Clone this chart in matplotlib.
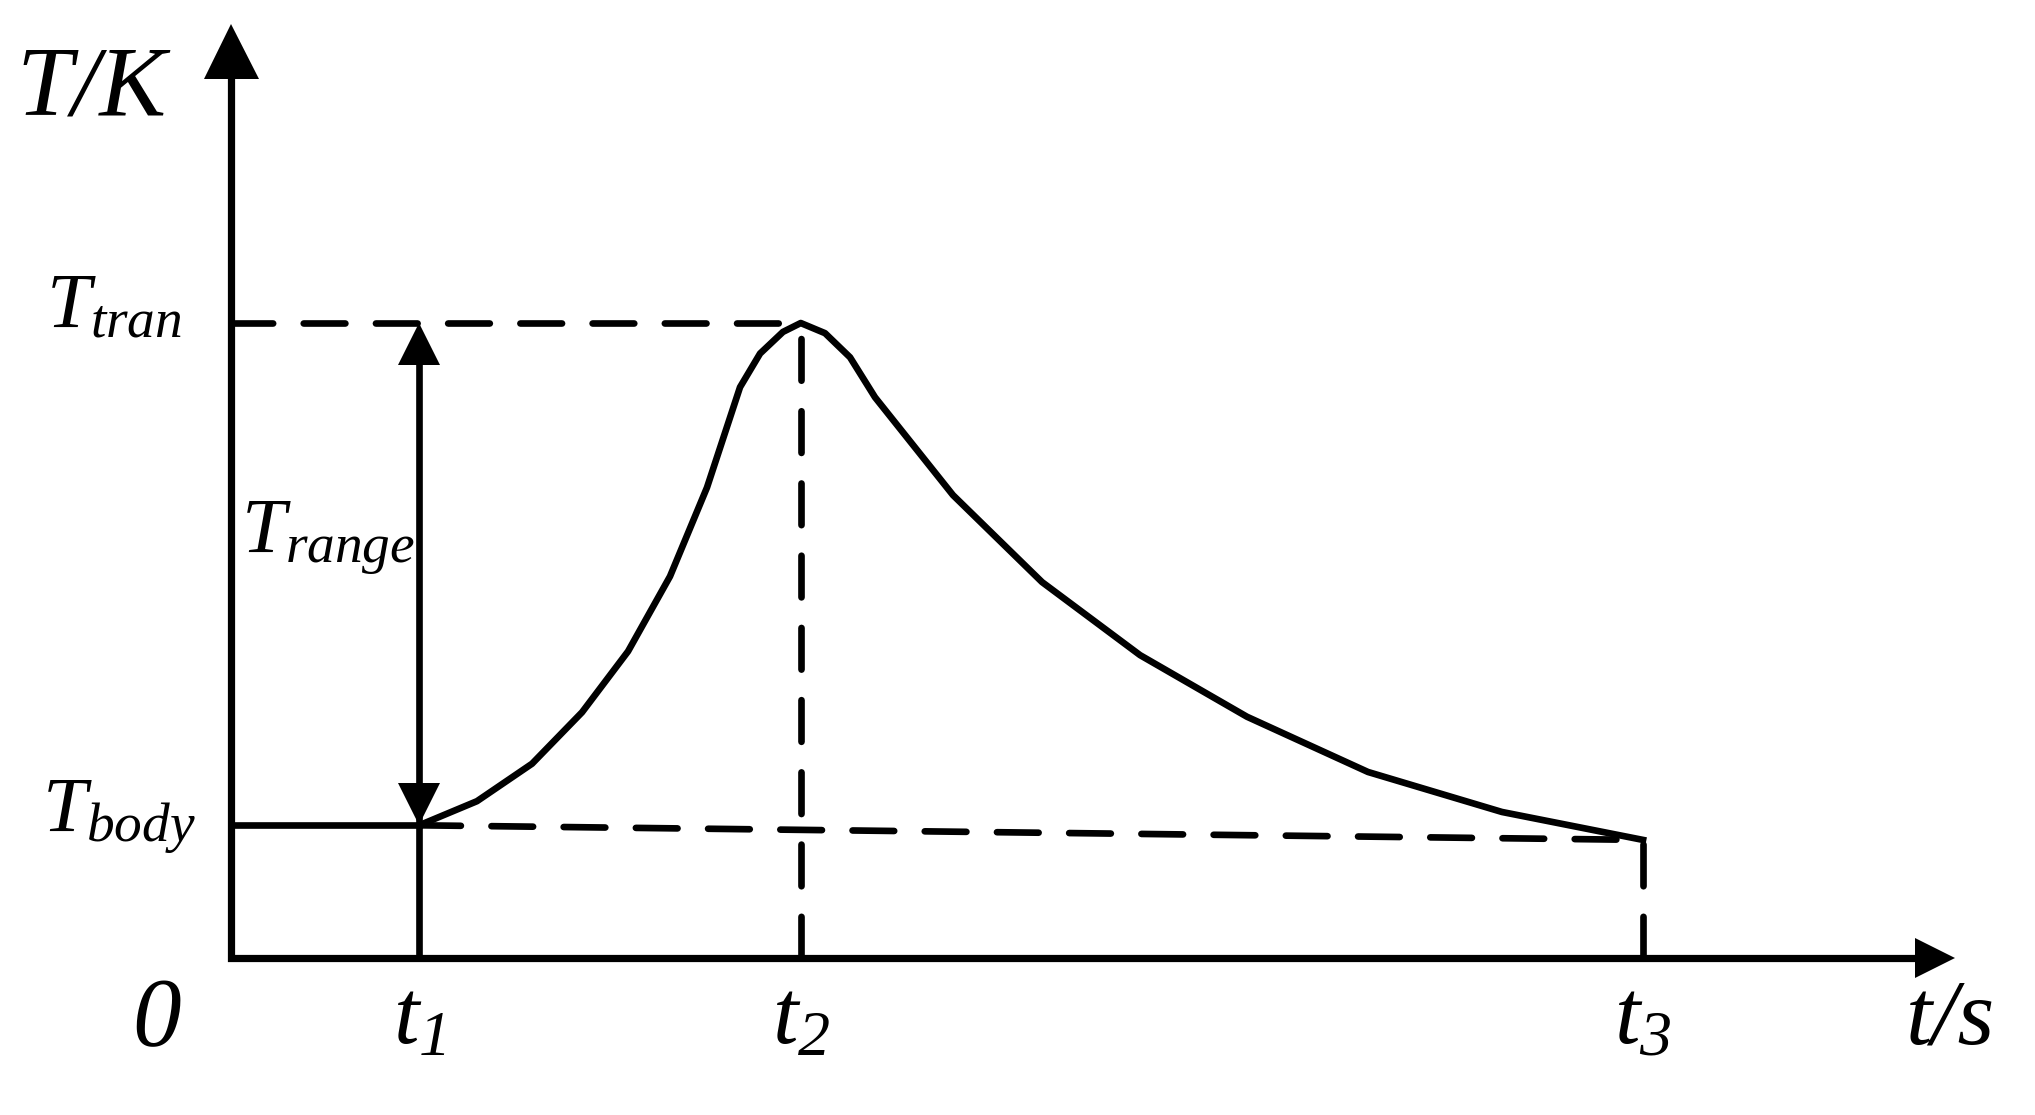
import matplotlib
matplotlib.use('Agg')
import matplotlib.pyplot as plt

plt.rcParams['font.family'] = 'Liberation Serif'
plt.rcParams['mathtext.fontset'] = 'custom'
plt.rcParams['mathtext.it'] = 'Liberation Serif:italic'
plt.rcParams['mathtext.rm'] = 'Liberation Serif:italic'
plt.rcParams['lines.scale_dashes'] = False

# key instants and temperature levels (arbitrary units)
t_marks = [1.333, 4.035, 10.0]
t_labels = [r'$t_1$', r'$t_2$', r'$t_3$']
T_body = 2.09
T_tran = 10.0
T_end = 1.86

# temperature curve
curve_t = [1.333, 1.742, 2.132, 2.486, 2.812, 3.109, 3.371, 3.605, 3.747, 3.909, 4.035,
           4.207, 4.384, 4.561, 5.113, 5.744, 6.438, 7.195, 8.052, 9.001, 10.0]
curve_T = [2.09, 2.47, 3.06, 3.87, 4.83, 6.01, 7.41, 8.99, 9.52, 9.86, 10.0,
           9.84, 9.46, 8.83, 7.29, 5.92, 4.77, 3.80, 2.93, 2.30, 1.86]

x_tip = 12.21
y_tip = 14.72

fig = plt.figure(figsize=(20.35, 11.15), dpi=100)
ax = fig.add_axes([0, 0, 1, 1])
ax.set_xlim(-1.636, 12.776)
ax.set_ylim(-2.472, 15.087)
ax.axis('off')

k = 'black'
dash = (0, (30, 22))
lw = 4.8

# axes: one polyline plus triangle heads
ax.plot([0, 0, x_tip - 0.2], [y_tip - 0.6, 0, 0], color=k, lw=5.2, solid_joinstyle='miter')
ax.plot([0], [y_tip - 0.433], marker='^', ms=39.6, color=k, mew=0)
ax.plot([x_tip - 0.142], [0], marker='>', ms=28.8, color=k, mew=0)

# curve
ax.plot(curve_t, curve_T, color=k, lw=lw, solid_joinstyle='round')

# solid guide lines
ax.plot([0, t_marks[0]], [T_body, T_body], color=k, lw=lw)
ax.plot([t_marks[0], t_marks[0]], [0, T_tran - 0.4], color=k, lw=lw)

# dashed guide lines
ax.plot([0, t_marks[1]], [T_tran, T_tran], color=k, lw=lw, ls=dash, dash_capstyle='round')
ax.plot([t_marks[1], t_marks[1]], [0, T_tran], color=k, lw=lw, ls=dash, dash_capstyle='round')
ax.plot([t_marks[0], t_marks[2]], [T_body, T_end], color=k, lw=lw, ls=dash, dash_capstyle='round')
ax.plot([t_marks[2], t_marks[2]], [0, T_end], color=k, lw=lw, ls=dash, dash_capstyle='round')

# T_range double arrow heads
ax.plot([t_marks[0]], [T_tran - 0.33], marker='^', ms=30, color=k, mew=0)
ax.plot([t_marks[0]], [T_body + 0.33], marker='v', ms=30, color=k, mew=0)

# labels
ax.text(-1.52, 13.29, 'T/K', fontsize=72, style='italic', ha='left', va='baseline')
ax.text(-1.31, 9.92, r'$T_{tran}$', fontsize=57, ha='left', va='baseline')
ax.text(0.07, 6.39, r'$T_{range}$', fontsize=57, ha='left', va='baseline')
ax.text(-1.34, 2.0, r'$T_{body}$', fontsize=57, ha='left', va='baseline')
ax.text(-0.524, -1.37, '0', fontsize=70, style='italic', ha='center', va='baseline')
for tm, lab in zip(t_marks, t_labels):
    ax.text(tm, -1.34, lab, fontsize=66, ha='center', va='baseline')
ax.text(11.86, -1.34, 't/s', fontsize=68, style='italic', ha='left', va='baseline')

fig.savefig('out.png', dpi=100)
